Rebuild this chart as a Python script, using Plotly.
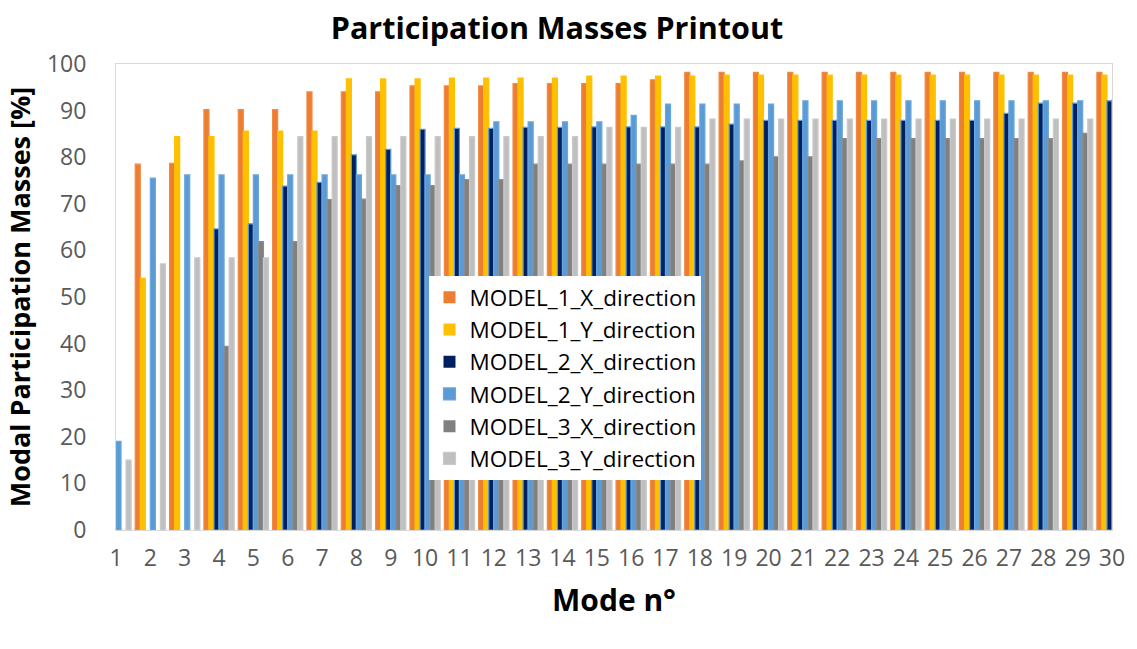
import plotly.graph_objects as go

# Mode numbers shown on the category axis
modes = list(range(1, 31))
mode_labels = [str(m) for m in modes]

# Cumulative modal participation masses [%] per mode
model_1_x = [0, 78.5, 78.7, 90.2, 90.2, 90.2, 94.0, 94.0, 94.0, 95.3,
             95.3, 95.3, 95.8, 95.8, 95.8, 95.8, 96.6, 98.2, 98.2, 98.2,
             98.2, 98.2, 98.2, 98.2, 98.2, 98.2, 98.2, 98.2, 98.2, 98.2]
model_1_y = [0, 54.0, 84.4, 84.4, 85.6, 85.6, 85.6, 96.8, 96.8, 96.8,
             97.0, 97.0, 97.0, 97.0, 97.4, 97.4, 97.4, 97.4, 97.6, 97.6,
             97.6, 97.6, 97.6, 97.6, 97.6, 97.6, 97.6, 97.6, 97.6, 97.6]
model_2_x = [0, 0, 0, 64.6, 65.7, 73.8, 74.6, 80.5, 81.7, 86.0,
             86.2, 86.2, 86.4, 86.4, 86.5, 86.5, 86.5, 86.5, 87.1, 87.9,
             87.9, 87.9, 87.9, 87.9, 87.9, 87.9, 89.4, 91.6, 91.6, 92.1]
model_2_y = [19.0, 75.5, 76.2, 76.2, 76.2, 76.2, 76.2, 76.2, 76.2, 76.2,
             76.2, 87.6, 87.6, 87.6, 87.6, 89.0, 91.4, 91.4, 91.4, 91.4,
             92.1, 92.1, 92.1, 92.1, 92.1, 92.1, 92.1, 92.1, 92.1, 92.3]
model_3_x = [0, 0, 0, 39.4, 61.9, 61.9, 70.9, 71.0, 73.9, 73.9,
             75.2, 75.2, 78.5, 78.5, 78.5, 78.5, 78.5, 78.5, 79.2, 80.1,
             80.1, 84.0, 84.0, 84.0, 84.0, 84.0, 84.0, 84.0, 85.1, 85.1]
model_3_y = [15.0, 57.1, 58.4, 58.4, 58.4, 84.4, 84.4, 84.4, 84.4, 84.4,
             84.4, 84.4, 84.4, 84.4, 86.4, 86.4, 86.4, 88.2, 88.2, 88.2,
             88.2, 88.2, 88.2, 88.2, 88.2, 88.2, 88.2, 88.2, 88.2, 88.2]

series = [
    ("MODEL_1_X_direction", model_1_x, "#ED7D31", "#F08A45"),
    ("MODEL_1_Y_direction", model_1_y, "#FFC000", "#FFC000"),
    ("MODEL_2_X_direction", model_2_x, "#002060", "#5B9BD5"),
    ("MODEL_2_Y_direction", model_2_y, "#5B9BD5", "#6AA6DC"),
    ("MODEL_3_X_direction", model_3_x, "#808080", "#8C8C8C"),
    ("MODEL_3_Y_direction", model_3_y, "#BFBFBF", "#CACACA"),
]

fig = go.Figure()
for name, vals, fill, edge in series:
    # no outline on empty bars so zero values leave no stub on the axis
    edge_widths = [1.2 if v > 0 else 0 for v in vals]
    fig.add_trace(go.Bar(
        x=modes, y=vals, name=name,
        marker=dict(color=fill, line=dict(color=edge, width=edge_widths)),
    ))

FONT = "Open Sans"

fig.update_layout(
    width=1137, height=649,
    margin=dict(l=116, r=17, t=64, b=119),
    paper_bgcolor="white", plot_bgcolor="white",
    barmode="group", bargap=0.12, bargroupgap=0,
    font=dict(family=FONT, color="#595959"),
    title=dict(
        text="<b>Participation Masses Printout</b>",
        x=557 / 1137, xanchor="center", xref="container",
        y=1 - 28 / 649, yanchor="middle", yref="container",
        font=dict(family=FONT, size=30.5, color="black"),
    ),
    legend=dict(
        x=(432 - 116) / 1004, xanchor="left",
        y=(530 - 276) / 466, yanchor="top",
        bgcolor="white", borderwidth=0,
        font=dict(family=FONT, size=22.5, color="black"),
        tracegroupgap=0,
    ),
    showlegend=True,
)

fig.update_xaxes(
    range=[1, 30],
    tickmode="array", tickvals=modes, ticktext=mode_labels,
    tickfont=dict(family=FONT, size=23, color="#595959"),
    showline=True, mirror=True, linecolor="#D9D9D9", linewidth=1,
    showgrid=False, zeroline=False, ticks="",
    ticklabelstandoff=7,
    title=dict(text="<b>Mode n°</b>", standoff=18,
               font=dict(family=FONT, size=30, color="black")),
)
fig.update_yaxes(
    range=[0, 100], dtick=10, tick0=0,
    tickfont=dict(family=FONT, size=23, color="#595959"),
    showline=True, mirror=True, linecolor="#D9D9D9", linewidth=1,
    showgrid=False, zeroline=False, ticks="",
    ticklabelstandoff=24,
    title=dict(text="<b>Modal Participation Masses [%]</b>", standoff=8,
               font=dict(family=FONT, size=27, color="black")),
)

fig.write_html("out.html")
